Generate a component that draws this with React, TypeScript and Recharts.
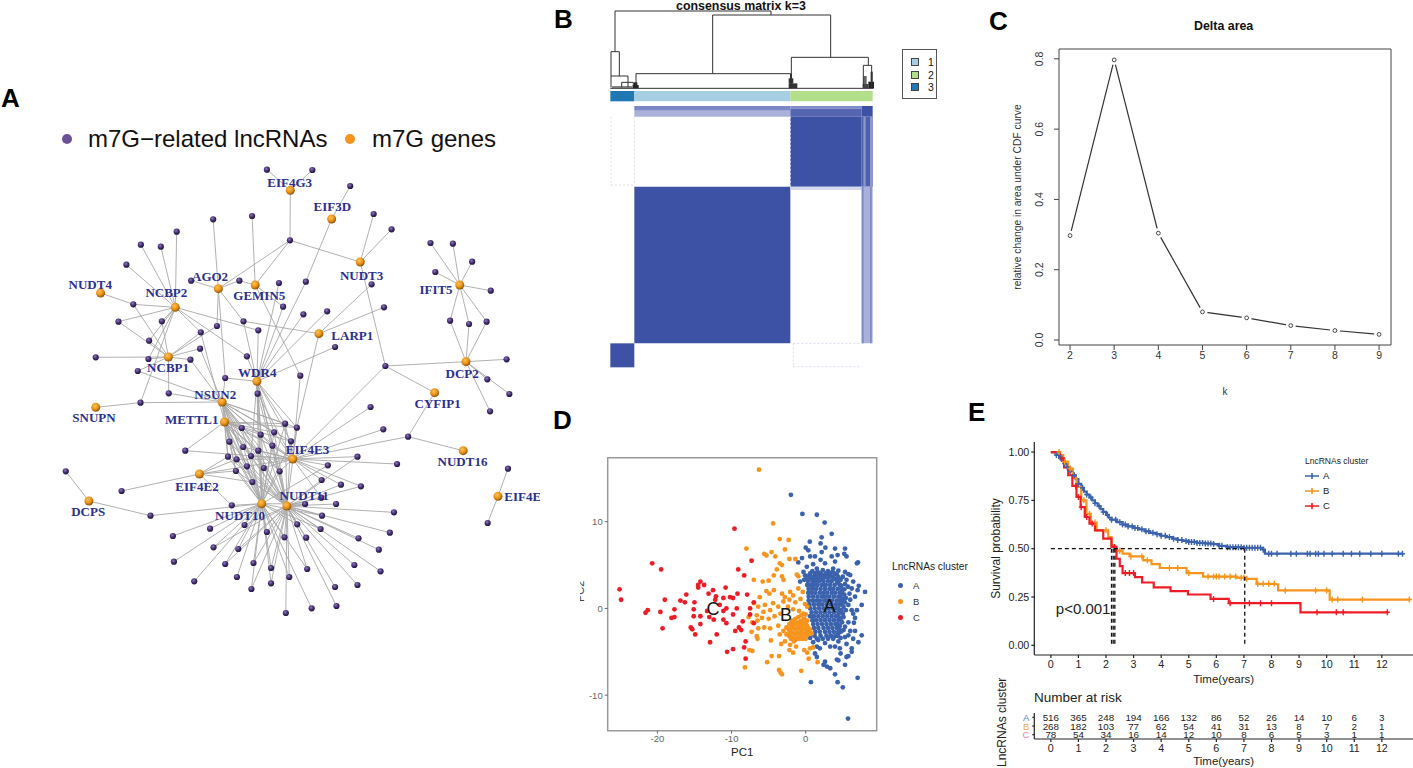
import { CSSProperties } from "react"
import {
  LineChart,
  Line,
  ScatterChart,
  Scatter,
  XAxis,
  YAxis,
  ReferenceArea,
  ReferenceDot,
} from "recharts"

const SANS = '"Liberation Sans", Arial, sans-serif'
const SERIF = '"Liberation Serif", serif'

// ---- A: network, values in layout units
const genes: [string, string, number, number, number, number][] = [
  ["G3", "EIF4G3", 843, 211, 841, 186],
  ["3D", "EIF3D", 963, 297, 965, 258],
  ["T3", "NUDT3", 1046, 426, 1050, 467],
  ["IF", "IFIT5", 1335, 495, 1266, 509],
  ["T4", "NUDT4", 292, 519, 262, 493],
  ["AG", "AGO2", 634, 506, 610, 468],
  ["GE", "GEMIN5", 741, 495, 753, 526],
  ["N2", "NCBP2", 509, 562, 483, 518],
  ["LA", "LARP1", 926, 641, 1023, 646],
  ["N1", "NCBP1", 489, 711, 488, 741],
  ["DC", "DCP2", 1353, 725, 1342, 760],
  ["W", "WDR4", 746, 784, 747, 758],
  ["CY", "CYFIP1", 1262, 818, 1271, 849],
  ["NS", "NSUN2", 645, 846, 625, 823],
  ["SN", "SNUPN", 278, 862, 273, 891],
  ["ME", "METTL1", 652, 906, 557, 899],
  ["E3", "EIF4E3", 850, 1017, 893, 987],
  ["T6", "NUDT16", 1345, 992, 1343, 1024],
  ["E2", "EIF4E2", 579, 1062, 572, 1100],
  ["DS", "DCPS", 258, 1143, 256, 1175],
  ["E", "EIF4E", 1446, 1129, 1518, 1129],
  ["T0", "NUDT10", 760, 1151, 697, 1186],
  ["T1", "NUDT11", 833, 1158, 883, 1127],
]

const lncRnas: [number, number, string][] = [
  [775, 149, "G3"], [907, 150, "G3"], [1017, 198, "3D"], [842, 361, "G3 T3 AG GE"],
  [619, 298, "AG"], [732, 288, "GE"], [1085, 282, "T3"], [1137, 328, "T3"],
  [513, 335, "N2"], [409, 374, "N2"], [467, 380, "N2"], [367, 434, "N2"],
  [555, 482, "AG"], [695, 482, "AG GE"], [810, 489, "W"], [888, 485, "3D W"],
  [1079, 493, "LA"], [1119, 738, "T3 DC CY E3"], [387, 553, "N2 N1 T4"], [344, 605, "N2 N1"],
  [470, 604, "N2 N1"], [433, 662, "N2 N1"], [630, 618, "AG N1"], [583, 637, "N2 N1 ME"],
  [707, 604, "AG W LA"], [750, 631, "N2 W"], [822, 560, "GE W"], [881, 583, "W"],
  [950, 574, "W"], [1115, 562, "LA"], [973, 681, "W"], [717, 709, "W N2"],
  [581, 686, "N1 NS"], [553, 719, "N1 NS"], [431, 717, "N1 N2"], [278, 712, "N1"],
  [400, 753, "N1 NS"], [872, 767, "GE E3"], [654, 774, "W AG NS"], [748, 821, "W E3 T0 T1"],
  [490, 820, "N1 NS"], [408, 848, "SN NS N2"],
  [1250, 369, "IF"], [1315, 371, "IF"], [1371, 425, "IF"], [1264, 456, "IF"], [1425, 512, "IF"],
  [1307, 602, "IF DC"], [1362, 612, "IF DC"], [1413, 605, "IF DC"],
  [1471, 718, "DC"], [1415, 778, "DC"], [1479, 822, "DC"], [1423, 874, "DC"],
  [1076, 861, "E3"], [1113, 928, "E3"],
  [828, 911, "NS ME W E3 T1 T0"], [862, 923, "W NS ME E3 T1 LA"], [702, 924, "ME NS T0 T1 E3"], [757, 944, "ME NS T0 T1 E3 W"],
  [796, 937, "NS ME W T1 T0 E3"], [845, 964, "NS ME W E3 T1 T0"], [666, 965, "ME NS T0 T1"], [791, 977, "NS ME W E3 T1 T0"],
  [706, 981, "ME NS T0 T1 E3"], [750, 992, "ME NS W E3 T1 T0"], [538, 992, "ME E3"], [1185, 950, "CY T6 E3"],
  [662, 1010, "ME NS T0 T1 E2"], [687, 1018, "ME NS T0 T1 E2 E3"], [729, 1008, "ME NS W E3 T0 T1"], [1038, 1010, "E3 T1"],
  [952, 1036, "E3 T0"], [1153, 1032, "E3"], [685, 1053, "E2 ME NS T1 T0"], [717, 1039, "E2 ME NS T0 T1 E3"],
  [766, 1044, "E3 ME NS W T1 T0"], [812, 1054, "E3 NS ME W T0 T1"], [934, 1080, "E3 T1"], [733, 1086, "E2 ME NS T0 T1"],
  [990, 1094, "E3 T1"], [1048, 1099, "E3 T1"], [933, 1133, "E3 T1"], [886, 1152, "T1 T0"],
  [976, 1152, "T1"], [1144, 1177, "T1"], [935, 1187, "T1 T0"], [673, 1156, "E2 T0"],
  [437, 1187, "DS T0"], [353, 1113, "E2"], [191, 1054, "DS"], [1475, 1046, "E"], [1416, 1209, "E"],
  [863, 1213, "T1 T0"], [710, 1215, "T0 T1"], [610, 1226, "T0"], [931, 1227, "T1 T0"],
  [775, 1236, "T0 T1"], [826, 1252, "T1 T0"], [889, 1253, "T1"], [1041, 1255, "T1"],
  [1132, 1238, "T1"], [502, 1248, "T0"], [620, 1282, "T0 T1"], [692, 1287, "T0 T1"],
  [1100, 1289, "T1"], [505, 1325, "T0"], [654, 1332, "T0 T1"], [736, 1329, "T0 T1"],
  [787, 1344, "T0 T1"], [892, 1347, "T1 T0"], [1029, 1335, "T1"], [1105, 1354, "T1"],
  [688, 1371, "T0"], [840, 1371, "T1 T0"], [564, 1384, "T0"], [730, 1407, "T0 T1"],
  [787, 1390, "T0 T1"], [973, 1401, "T1"], [1038, 1395, "T1"], [830, 1479, "T1"],
  [905, 1465, "T0"], [977, 1458, "T1"],
]

// ---- B: consensus matrix, values in sample units
const matrixBlocks: [number, number, number, number, string][] = [
  [253, 721, 318, 332, "#7a86c6"],
  [253, 721, 332, 350, "#aab2dc"],
  [721, 935, 318, 326, "#7f8ac8"],
  [721, 935, 326, 350, "#5565b0"],
  [935, 968, 318, 350, "#3d52a5"],
  [721, 935, 350, 560, "#3d52a5"],
  [935, 968, 350, 560, "#4d60ae"],
  [940, 947, 350, 560, "#8d98cf"],
  [960, 968, 350, 560, "#8d98cf"],
  [253, 721, 560, 1030, "#3d52a5"],
  [721, 935, 560, 570, "#d5d9ee"],
  [935, 968, 560, 1030, "#a8b0db"],
  [935, 941, 560, 1030, "#7f8bc8"],
  [960, 965, 560, 1030, "#7f8bc8"],
  [181, 253, 1030, 1102, "#3d52a5"],
  [181, 253, 273, 304, "#1f78b4"],
  [253, 721, 273, 304, "#a6cee3"],
  [721, 968, 273, 304, "#b2df8a"],
  [248, 266, 255, 265, "#222222"],
  [252, 262, 247, 255, "#222222"],
  [716, 742, 250, 265, "#333333"],
  [716, 730, 235, 250, "#333333"],
  [720, 726, 222, 235, "#333333"],
  [955, 972, 245, 265, "#222222"],
  [938, 955, 252, 265, "#444444"],
  [940, 950, 228, 252, "#666666"],
  [962, 968, 215, 245, "#222222"],
  [186, 248, 258, 264, "#888888"],
]
const faintLines: [number, number, number, number][] = [
  [183, 350, 183, 555],
  [183, 555, 253, 555],
  [253, 350, 253, 555],
  [721, 350, 721, 560],
  [730, 1030, 730, 1100],
  [730, 1100, 935, 1100],
  [730, 1030, 935, 1030],
]
const dendrogram: number[][][] = [
  [[195, 155], [195, 33], [663, 33], [663, 45]],
  [[488, 221], [488, 45], [842, 45], [842, 172]],
  [[258, 262], [258, 221], [722, 221], [722, 262]],
  [[724, 262], [724, 172], [955, 172], [955, 196]],
  [[940, 262], [940, 196], [965, 196], [965, 262]],
  [[183, 262], [183, 155], [208, 155], [208, 228]],
  [[183, 228], [234, 228], [234, 262]],
  [[215, 262], [215, 247], [250, 247], [250, 262]],
  [[181, 265], [970, 265]],
]
const matrixLegend = [
  { name: "1", color: "#a6cee3" },
  { name: "2", color: "#b2df8a" },
  { name: "3", color: "#1f78b4" },
]

// ---- C: delta area
const deltaK = [2, 3, 4, 5, 6, 7, 8, 9]
const deltaArea = [0.297, 0.797, 0.304, 0.08, 0.063, 0.041, 0.027, 0.016]

// ---- D: PCA
const pcaA: number[][] = [
  [-2, 13.1], [-0.45, 10.9], [1.5, 10.8], [2.55, 9.9], [3.5, 8.6], [2.15, 8.2], [0.55, 7.7], [2, 7.5],
  [0, 7], [0.35, 6.7], [2.65, 7], [2.15, 6.5], [3.95, 6.9], [5.3, 6.9], [5.2, 6.3], [5.5, 6], [4.3, 6.15],
  [3.5, 6], [0.6, 6], [1.25, 6], [-0.5, 5.8], [-1, 5.3], [2, 5.6], [2.6, 5.2], [3.95, 5.4], [6.9, 5.2],
  [7.05, 5.3], [0.15, 4.8], [1, 5.1], [1.5, 4.6], [3.7, 4.6], [4.4, 4.35], [5.3, 4.2], [5.75, 3.95], [6, 3.85],
  [-0.3, 4.2], [-0.75, 3.1], [6.4, 3.1], [7.15, 2.6], [8, 1.9], [7, 2.1], [6.2, 2.3], [5.5, 3.3], [5, 3.65],
  [7.55, 0.4], [6.65, 1.35], [5.9, 1.7], [6, 1], [5.75, 0.4], [6.9, -0.2], [6.4, -0.6], [6.2, -0.2], [6.65, -1.1],
  [5.75, -1.6], [6.5, -1.65], [5.1, -1], [5.3, -2.1], [5.1, -2.5], [6, -2.6], [6.65, -2.6], [7.55, -3.1], [5.75, -3.1],
  [5.3, -3.3], [6.4, -3.5], [7.1, -3.9], [5.5, -4.1], [6.2, -4.6], [6.2, -5], [5.75, -5.5], [4.6, -4.6], [3.95, -4.4],
  [3.3, -4.4], [2.6, -4], [1.7, -3.65], [1.5, -4.4], [1.9, -4.6], [1.25, -5.2], [1.5, -5.6], [4.7, -5.2], [4.4, -6],
  [4.2, -5.9], [5.3, -6.5], [5.5, -5.6], [2.6, -6.15], [2.4, -6.5], [2.85, -6.7], [3.3, -6.9], [3.95, -7.6], [4.3, -8.5],
  [5, -9.1], [7, -8], [0.7, -8.5], [5.7, -12.7],
  [0.9, 4.3], [1.6, 4.2], [2.3, 4.4], [3, 4.3], [3.6, 4.2], [4.2, 3.9], [-0.1, 3.8], [0.5, 3.85], [1.1, 3.7], [1.7, 3.9],
  [2.3, 3.8], [2.9, 3.9], [3.4, 3.7], [4, 3.4], [4.7, 3.3], [-0.2, 3.3], [0.4, 3.4], [1, 3.3], [1.5, 3.4], [2.1, 3.3],
  [4.4, 2.9], [4.8, 2.6], [5.3, 2.8], [5.2, 2.2], [5.7, 2.5], [5.2, 1.6], [5, 1.1], [5.4, 1.2], [5.3, 0.7], [5.1, 0.2],
  [4.8, -0.2], [5.4, -0.2], [5, -0.6], [4.6, -1.1], [4.9, -1.6], [4.6, -2], [4.8, -2.6], [4.4, -2.9], [4.7, -3.4], [4.4, -3.8], [1, -3], [0.6, -3.4], [1, -3.9],
]
// core of cluster A, each row is PC2 then the PC1 values read along it
const pcaACore: number[][] = [
  [4.05, 0.6, 1.3, 2, 2.7, 3.3, 3.9],
  [3.6, 0.2, 0.8, 1.4, 2, 2.6, 3.1, 3.7, 4.4],
  [3.15, 0.3, 0.9, 1.3, 1.8, 2.4, 3, 3.5, 4.2],
  [2.7, 0.2, 0.7, 1.1, 1.6, 2.2, 2.7, 3.3, 3.9, 4.6],
  [2.25, 0.4, 0.9, 1.4, 2, 2.6, 3.2, 3.7, 4.3, 4.8],
  [1.8, 0.35, 0.8, 1.3, 1.9, 2.4, 2.9, 3.5, 4, 4.6, 4.9],
  [1.35, 0.4, 1, 1.6, 2.2, 2.7, 3.2, 3.8, 4.4, 4.7],
  [0.9, 0.4, 0.9, 1.4, 1.9, 2.5, 3, 3.6, 4.2, 4.7, 5],
  [0.45, 0.5, 1.1, 1.7, 2.2, 2.8, 3.4, 4, 4.5, 4.8],
  [0, 0.6, 1.2, 1.8, 2.4, 3, 3.6, 4.1, 4.4],
  [-0.45, 0.8, 1.4, 2, 2.6, 3.2, 3.8, 4.4, 4.7],
  [-0.9, 0.6, 1.1, 1.7, 2.3, 2.9, 3.5, 4.1, 4.4],
  [-1.35, 0.9, 1.4, 2, 2.6, 3.2, 3.8, 4.4, 4.7],
  [-1.8, 1, 1.6, 2.2, 2.8, 3.4, 4, 4.3],
  [-2.25, 1.1, 1.7, 2.4, 3, 3.6, 4.2, 4.5],
  [-2.7, 1.3, 1.9, 2.6, 3.2, 3.8, 4.4, 4.7],
  [-3.15, 1.2, 2, 2.8, 3.4, 4, 4.3],
  [-3.5, 1.5, 2.3, 3, 3.7],
]
const pcaB: number[][] = [
  [-6.3, 16], [-4.4, 9.8], [-3.5, 8], [-2.3, 7.9], [-8, 6.9], [-2.8, 6.8], [-5.6, 6.3], [-5.3, 6.1], [-4.6, 6.5],
  [-4.1, 6], [-2.2, 5.7], [-1.4, 5.7], [-3.5, 5.2], [-3.2, 5], [-3.9, 4.5], [-7, 3.3], [-5.8, 3.1], [-5, 3.2],
  [-4.3, 3.8], [-3.2, 3.7], [-3, 3.3], [-1.2, 3.9], [-1, 3.7], [-5.3, 2], [-4.9, 1.7], [-4.3, 2.1], [-3.2, 1.7],
  [-2.8, 1.3], [-2.1, 1.9], [-1.7, 1.5], [-1, 2.3], [-0.4, 1.9], [-6.2, 1.3], [-7, 0.6], [-6.4, 0.2], [-5.5, 0.4],
  [-4.4, 0.6], [-5.7, -0.4], [-6.6, -0.8], [-4.8, -0.2], [-3.7, 0.2], [-3, 0.8], [-2.2, 1], [-1.4, 0.7], [-0.7, 1.1],
  [-0.1, 0.5], [-7.7, -1], [-7.2, -1.6], [-6.5, -1.4], [-5.9, -1.1], [-5, -1.2], [-4.2, -0.9], [-3.4, -0.6], [-2.4, 0.2],
  [-1.7, -0.1], [-0.9, -0.3], [-0.3, -0.6], [0.2, 0.2], [-7.3, -2.7], [-6.4, -2.3], [-5.6, -2.2], [-4.8, -2.3], [-3.7, -2],
  [-6.6, -3.2], [-6.5, -3.5], [-4.7, -3.7], [-3.5, -3], [-3.3, -4.1], [-7.2, -4.9], [-7.6, -4.8], [-5.2, -6.2], [-4.6, -5.5],
  [-3.6, -5.5], [-8.2, -6.8], [-3.6, -7.1], [-3.4, -7.4], [-3.2, -7.6], [-0.6, -7.2], [1.6, -6.2], [0.4, -5.8], [-1.7, -5.1],
  [-2.2, -4.8], [-1.3, -4.4], [-0.2, -4.8], [0.2, -5.1], [0.6, -4.6], [1, -4.5], [-2.8, -3.8], [-2.1, -4.2], [-1.6, -3.8],
  [-3, -2.6], [-2.6, -2.2], [-2.6, -3], [-2.2, -1.8], [-2.2, -2.5], [-2.2, -3.2], [-1.8, -1.4], [-1.8, -2.1], [-1.8, -2.8],
  [-1.8, -3.4], [-1.4, -1.2], [-1.4, -1.8], [-1.4, -2.4], [-1.4, -3], [-1.4, -3.6], [-1, -1], [-1, -1.6], [-1, -2.2], [-1, -2.8],
  [-1, -3.4], [-0.6, -1.4], [-0.6, -2], [-0.6, -2.6], [-0.6, -3.2], [-0.2, -1.2], [-0.2, -1.8], [-0.2, -2.4], [-0.2, -3], [0.2, -1.4],
  [0.2, -2], [0.2, -2.6], [0.2, -3.1], [0.6, -2.5], [0.8, -2.9], [-0.6, -0.8], [0, -0.7],
]
const pcaBCore: number[][] = [
  [-1.7, -2, -1.6, -1.2, -0.8, -0.4, 0],
  [-2.3, -2.4, -2, -1.6, -1.2, -0.8, -0.4, 0, 0.4],
  [-2.9, -2.4, -2, -1.6, -1.2, -0.8, -0.4, 0, 0.4],
  [-3.5, -2, -1.6, -1.2, -0.8, -0.4, 0],
]
const pcaC: number[][] = [
  [-25.1, 2.2], [-24.9, 1], [-20.7, 5.2], [-19.5, 4.5], [-19, 1], [-21.6, -0.5], [-21.3, -0.2], [-19.6, -0.4], [-19.3, -2.3],
  [-17.7, -0.1], [-18.1, -1.1], [-17.7, -1], [-16.9, 0.9], [-16.3, 0.7], [-16.1, 1.6], [-15.5, -2.2], [-15.3, -2.4], [-14.9, -3],
  [-15, 0.7], [-15.1, -0.1], [-15.1, -0.9], [-14.2, -0.9], [-14.2, -1.8], [-14.5, 2.4], [-14.2, 3.1], [-13.7, 2.7], [-14.5, 2.7],
  [-12.9, -3.9], [-12, -3], [-13.1, 1.7], [-12.5, 2.1], [-12.1, 1.4], [-12.2, 1], [-11.1, 1.2], [-10.8, 2.4], [-11.6, 0.4],
  [-13.3, -0.3], [-13, -1], [-12.4, -1.3], [-11.1, -0.3], [-10.7, 0], [-11.1, -1.3], [-10.7, -1.7], [-10.6, -5], [-9.8, -4.7],
  [-9.6, 9.2], [-9.1, 4.5], [-8.3, 3.8], [-7.3, 5.5], [-10.2, 1.3], [-9.8, 1.2], [-9.2, 1.7], [-7.9, 1.6], [-9.3, 0], [-9.8, -0.7],
  [-9.5, -2.6], [-9, -2.2], [-8.7, -2.5], [-8.5, -1.5], [-8.1, -3.8], [-8.3, -4.5], [-8.1, -5.8], [-7.5, 0], [-7.5, -0.7], [-7, 0.7], [-7, -1.7],
]
const pcaLabels = [
  { x: 3.2, y: 0.3, name: "A" },
  { x: -2.65, y: -0.7, name: "B" },
  { x: -12.5, y: 0, name: "C" },
]
const clusterLegend = [
  { name: "A", color: "#3b62ad" },
  { name: "B", color: "#f7941d" },
  { name: "C", color: "#ee1c25" },
]

// ---- E: survival
const survA: number[][] = [
  [0, 1], [0.1, 0.998], [0.2, 0.985], [0.3, 0.97], [0.4, 0.955], [0.5, 0.94], [0.6, 0.92], [0.7, 0.9], [0.8, 0.88], [0.9, 0.86],
  [1, 0.835], [1.1, 0.815], [1.2, 0.795], [1.3, 0.78], [1.4, 0.765], [1.5, 0.75], [1.6, 0.735], [1.7, 0.72], [1.8, 0.705], [1.9, 0.69],
  [2, 0.675], [2.1, 0.66], [2.2, 0.65], [2.4, 0.637], [2.6, 0.625], [2.8, 0.615], [3, 0.607], [3.2, 0.6], [3.4, 0.59], [3.6, 0.582],
  [3.8, 0.575], [4, 0.567], [4.2, 0.56], [4.4, 0.552], [4.6, 0.545], [4.8, 0.54], [5, 0.535], [5.3, 0.53], [5.6, 0.527], [5.9, 0.524],
  [6.1, 0.515], [6.4, 0.508], [7, 0.505], [7.7, 0.495], [7.76, 0.474], [12.77, 0.474],
]
const survB: number[][] = [
  [0, 1], [0.33, 0.984], [0.45, 0.95], [0.63, 0.915], [0.8, 0.865], [0.93, 0.82], [1.1, 0.75], [1.29, 0.68], [1.45, 0.635], [1.66, 0.595],
  [2.08, 0.56], [2.2, 0.517], [2.32, 0.49], [2.6, 0.475], [2.86, 0.46], [3.35, 0.44], [3.65, 0.42], [3.95, 0.4], [4.56, 0.4], [4.92, 0.374],
  [5.52, 0.356], [6.73, 0.35], [7.09, 0.344], [7.46, 0.318], [8.12, 0.316], [8.24, 0.284], [10.05, 0.284], [10.11, 0.237], [13, 0.237],
]
const survC: number[][] = [
  [0, 1], [0.33, 0.967], [0.48, 0.92], [0.63, 0.88], [0.78, 0.825], [0.93, 0.768], [1.08, 0.715], [1.23, 0.664], [1.4, 0.63], [1.6, 0.595],
  [1.9, 0.552], [2.2, 0.509], [2.38, 0.448], [2.5, 0.41], [2.6, 0.374], [3.05, 0.353], [3.31, 0.325], [3.73, 0.3], [4.34, 0.28], [4.97, 0.263],
  [5.79, 0.24], [6.45, 0.218], [9.05, 0.171], [12.23, 0.171],
]
const censorA = [
  0.2, 0.35, 0.5, 0.6, 0.7, 0.85, 1, 1.15, 1.3, 1.45, 1.6, 1.75, 1.9, 2.05, 2.2, 2.35, 2.5, 2.6, 2.7, 2.8, 2.95, 3.05, 3.15, 3.3,
  3.45, 3.55, 3.7, 3.85, 4, 4.15, 4.3, 4.45, 4.6, 4.75, 4.9, 5, 5.1, 5.2, 5.3, 5.4, 5.5, 5.6, 5.7, 5.8, 5.9, 6.1, 6.2, 6.4, 6.5,
  6.6, 6.7, 6.8, 6.9, 7, 7.1, 7.2, 7.3, 7.4, 7.5, 7.6, 7.7, 7.9, 8, 8.2, 8.7, 8.9, 9.3, 9.4, 9.6, 9.7, 9.9, 10.2, 10.6, 10.9, 11.2, 11.6, 12, 12.6, 12.75,
]
const censorB = [
  0.3, 0.5, 0.7, 1.2, 1.4, 1.6, 2, 2.5, 2.9, 3.3, 3.5, 4.3, 4.6, 5, 5.7, 5.9, 6, 6.1, 6.3, 6.5, 6.7, 6.9, 7, 7.1, 7.5, 7.7, 7.9, 8.1, 8.5,
  9.6, 10, 10.2, 10.4, 11.3, 13,
]
const censorC = [0.4, 0.9, 1, 1.1, 1.3, 1.5, 2.3, 2.7, 2.85, 3, 5.9, 6.5, 7.2, 7.6, 8, 9.65, 10.35, 10.6, 12.2]

const medianLines: [number, number, number, number][] = [
  [0, 0.5, 7.03, 0.5],
  [2.2, 0.5, 2.2, 0],
  [2.26, 0.5, 2.26, 0],
  [2.32, 0.5, 2.32, 0],
  [7.03, 0.5, 7.03, 0],
]

const riskTimes = [0, 1, 2, 3, 4, 5, 6, 7, 8, 9, 10, 11, 12]
const riskA = [516, 365, 248, 194, 166, 132, 86, 52, 26, 14, 10, 6, 3]
const riskB = [268, 182, 103, 77, 62, 54, 41, 31, 13, 8, 7, 2, 1]
const riskC = [78, 54, 34, 16, 14, 12, 10, 8, 6, 5, 3, 1, 1]
const riskRowColors: Record<string, string> = { "2.5": "#4f7fc8", "1.5": "#f5a84b", "0.5": "#f58a8f" }
const riskRowNames: Record<string, string> = { "2.5": "A", "1.5": "B", "0.5": "C" }

// ---- helpers
const geneByKey = Object.fromEntries(genes.map((g) => [g[0], g]))
const edges = lncRnas.flatMap(([x, y, links]) =>
  links.split(" ").map((key) => [
    { x, y },
    { x: geneByKey[key][2], y: geneByKey[key][3] },
  ]),
)
const lncData = lncRnas.map(([x, y]) => ({ x, y }))
const geneData = genes.map((g) => ({ x: g[2], y: g[3] }))
const geneLabels = genes.map((g) => ({ x: g[4], y: g[5], name: g[1] }))
const toXY = (rows: number[][]) => rows.map(([x, y]) => ({ x, y }))
const toTS = (rows: number[][]) => rows.map(([t, s]) => ({ t, s }))
const coreToXY = (rows: number[][]) => rows.flatMap(([y, ...xs]) => xs.map((x) => ({ x, y })))
const stepAt = (rows: number[][], t: number) => {
  let s = rows[0][1]
  for (const r of rows) if (r[0] <= t) s = r[1]
  return s
}
const censored = (rows: number[][], times: number[]) => times.map((t) => ({ t, s: stepAt(rows, t) }))
const deltaData = deltaK.map((k, i) => ({ k, area: deltaArea[i] }))
const riskRow = (values: number[], y: number) => riskTimes.map((t, i) => ({ t, y, n: values[i] }))

const noMark = () => <g />
const zero = { top: 0, right: 0, bottom: 0, left: 0 }
const panel = (left: number, top: number): CSSProperties => ({ position: "absolute", left, top })

const Html = ({ x, y, size, children, style }: any) => (
  <div
    style={{
      position: "absolute",
      left: x,
      top: y,
      fontFamily: SANS,
      fontSize: size,
      lineHeight: 1,
      whiteSpace: "nowrap",
      color: "#111",
      ...style,
    }}
  >
    {children}
  </div>
)

function NetworkPanel() {
  return (
    <ScatterChart style={panel(0, 120)} width={540} height={520} margin={zero}>
      <defs>
        <radialGradient id="geneBall" cx="40%" cy="35%" r="70%">
          <stop offset="0%" stopColor="#ffc457" />
          <stop offset="55%" stopColor="#e88f14" />
          <stop offset="100%" stopColor="#7a4a08" />
        </radialGradient>
        <radialGradient id="lncBall" cx="40%" cy="35%" r="70%">
          <stop offset="0%" stopColor="#8d78b8" />
          <stop offset="55%" stopColor="#402a6e" />
          <stop offset="100%" stopColor="#1d1236" />
        </radialGradient>
      </defs>
      <XAxis type="number" dataKey="x" domain={[0, 1568]} hide />
      <YAxis type="number" dataKey="y" domain={[0, 1560]} reversed hide />
      {edges.map((edge, i) => (
        <Scatter
          key={i}
          data={edge}
          line={{ stroke: "#a8a8a8", strokeWidth: 0.9 }}
          shape={noMark}
          isAnimationActive={false}
        />
      ))}
      <Scatter
        data={lncData}
        isAnimationActive={false}
        shape={(p: any) => <circle cx={p.cx} cy={p.cy} r={3.1} fill="url(#lncBall)" />}
      />
      <Scatter
        data={geneData}
        isAnimationActive={false}
        shape={(p: any) => <circle cx={p.cx} cy={p.cy} r={4.5} fill="url(#geneBall)" />}
      />
      <Scatter
        data={geneLabels}
        isAnimationActive={false}
        shape={(p: any) => (
          <text
            x={p.cx}
            y={p.cy}
            textAnchor="middle"
            dominantBaseline="central"
            fontFamily={SERIF}
            fontWeight="bold"
            fontSize={13}
            fill="#2b2f8f"
          >
            {p.payload.name}
          </text>
        )}
      />
    </ScatterChart>
  )
}

function MatrixPanel() {
  return (
    <ScatterChart style={panel(550, 0)} width={420} height={380} margin={zero}>
      <XAxis type="number" dataKey="x" domain={[0, 1260]} hide />
      <YAxis type="number" dataKey="y" domain={[0, 1140]} reversed hide />
      {matrixBlocks.map(([x1, x2, y1, y2, color], i) => (
        <ReferenceArea key={i} x1={x1} x2={x2} y1={y1} y2={y2} fill={color} fillOpacity={1} stroke="none" />
      ))}
      {faintLines.map(([x1, y1, x2, y2], i) => (
        <Scatter
          key={"f" + i}
          data={[{ x: x1, y: y1 }, { x: x2, y: y2 }]}
          line={{ stroke: "#d9dbf0", strokeWidth: 1, strokeDasharray: "2 2" }}
          shape={noMark}
          isAnimationActive={false}
        />
      ))}
      {dendrogram.map((path, i) => (
        <Scatter
          key={"d" + i}
          data={toXY(path)}
          line={{ stroke: "#333", strokeWidth: 1 }}
          shape={noMark}
          isAnimationActive={false}
        />
      ))}
    </ScatterChart>
  )
}

const RotatedTick = ({ x, y, payload }: any) => (
  <text
    x={x - 9}
    y={y}
    transform={`rotate(-90 ${x - 9} ${y})`}
    textAnchor="middle"
    fontFamily={SANS}
    fontSize={10.5}
    fill="#333"
  >
    {payload.value.toFixed(1)}
  </text>
)

function DeltaPanel() {
  return (
    <LineChart
      style={panel(980, 0)}
      width={433}
      height={400}
      data={deltaData}
      margin={{ top: 49, right: 22, bottom: 0, left: 0 }}
    >
      <XAxis
        type="number"
        dataKey="k"
        domain={[1.75, 9.27]}
        ticks={deltaK}
        interval={0}
        height={55}
        tickSize={5}
        axisLine={false}
        tick={{ fontFamily: SANS, fontSize: 10.5, fill: "#333" }}
        stroke="#444"
        label={{
          value: "k",
          position: "insideBottom",
          offset: 5,
          style: { fontFamily: SANS, fontSize: 10, fill: "#333" },
        }}
      />
      <YAxis
        type="number"
        domain={[-0.0142, 0.828]}
        ticks={[0, 0.2, 0.4, 0.6, 0.8]}
        interval={0}
        width={79}
        tickSize={5}
        axisLine={false}
        stroke="#444"
        tick={<RotatedTick />}
        label={{
          value: "relative change in area under CDF curve",
          angle: -90,
          position: "insideLeft",
          offset: 37,
          style: { textAnchor: "middle", fontFamily: SANS, fontSize: 10.3, fill: "#333" },
        }}
      />
      <ReferenceArea x1={1.75} x2={9.27} y1={-0.0142} y2={0.828} fill="none" stroke="#444" strokeWidth={1} />
      <Line
        dataKey="area"
        stroke="#333"
        strokeWidth={1.2}
        isAnimationActive={false}
        dot={(p: any) => (
          <g key={p.key}>
            <circle cx={p.cx} cy={p.cy} r={5} fill="#fff" />
            <circle cx={p.cx} cy={p.cy} r={1.9} fill="#fff" stroke="#333" strokeWidth={0.9} />
          </g>
        )}
      />
    </LineChart>
  )
}

function PcaPanel() {
  const dot = (fill: string) => (p: any) => <circle cx={p.cx} cy={p.cy} r={2.4} fill={fill} />
  const tick = { fontFamily: SANS, fontSize: 9.5, fill: "#666" }
  return (
    <ScatterChart style={panel(550, 440)} width={420} height={328} margin={{ top: 17.7, right: 93.3, bottom: 0, left: 0 }}>
      <XAxis
        type="number"
        dataKey="x"
        domain={[-26.7, 9.57]}
        ticks={[-20, -10, 0]}
        interval={0}
        height={37.3}
        tickSize={3}
        axisLine={false}
        stroke="#666"
        tick={tick}
        label={{
          value: "PC1",
          position: "insideBottom",
          offset: 12,
          style: { fontFamily: SANS, fontSize: 11.5, fill: "#222" },
        }}
      />
      <YAxis
        type="number"
        dataKey="y"
        domain={[-14.1, 17.38]}
        ticks={[-10, 0, 10]}
        interval={0}
        width={57.7}
        tickSize={3}
        axisLine={false}
        stroke="#666"
        tick={tick}
      />
      <Scatter data={toXY(pcaA)} isAnimationActive={false} shape={dot(clusterLegend[0].color)} />
      <Scatter data={coreToXY(pcaACore)} isAnimationActive={false} shape={dot(clusterLegend[0].color)} />
      <Scatter data={toXY(pcaB)} isAnimationActive={false} shape={dot(clusterLegend[1].color)} />
      <Scatter data={coreToXY(pcaBCore)} isAnimationActive={false} shape={dot(clusterLegend[1].color)} />
      <Scatter data={toXY(pcaC)} isAnimationActive={false} shape={dot(clusterLegend[2].color)} />
      <ReferenceArea x1={-26.7} x2={9.57} y1={-14.1} y2={17.38} fill="none" stroke="#999" strokeWidth={1.5} />
      {pcaLabels.map((l) => (
        <ReferenceDot
          key={l.name}
          x={l.x}
          y={l.y}
          r={0}
          stroke="none"
          label={{ value: l.name, position: "center", fontFamily: SANS, fontSize: 18, fill: "#111" }}
        />
      ))}
    </ScatterChart>
  )
}

const plusMark = (color: string) => (p: any) => (
  <path
    d={`M${p.cx - 2.5} ${p.cy}H${p.cx + 2.5}M${p.cx} ${p.cy - 3}V${p.cy + 3}`}
    stroke={color}
    strokeWidth={1.4}
    fill="none"
  />
)

function SurvivalPanel() {
  const tick = { fontFamily: SANS, fontSize: 10.7, fill: "#222" }
  return (
    <ScatterChart style={panel(980, 430)} width={433} height={256} margin={{ top: 12, right: 0, bottom: 0, left: 0 }}>
      <XAxis
        type="number"
        dataKey="t"
        domain={[-0.6, 13.13]}
        ticks={riskTimes}
        interval={0}
        height={31}
        tickSize={3}
        stroke="#222"
        strokeWidth={1.2}
        tick={tick}
        label={{
          value: "Time(years)",
          position: "insideBottom",
          offset: 3,
          style: { fontFamily: SANS, fontSize: 11.5, fill: "#222" },
        }}
      />
      <YAxis
        type="number"
        dataKey="s"
        domain={[-0.05, 1.052]}
        ticks={[0, 0.25, 0.5, 0.75, 1]}
        interval={0}
        width={54.3}
        tickSize={3}
        stroke="#222"
        strokeWidth={1.2}
        tick={tick}
        tickFormatter={(v: number) => v.toFixed(2)}
        label={{
          value: "Survival probability",
          angle: -90,
          position: "insideLeft",
          offset: 16,
          style: { textAnchor: "middle", fontFamily: SANS, fontSize: 12, fill: "#222" },
        }}
      />
      {[survA, survB, survC].map((rows, i) => (
        <Scatter
          key={i}
          data={toTS(rows)}
          line={{ stroke: clusterLegend[i].color, strokeWidth: 2.2 }}
          lineJointType="stepAfter"
          shape={noMark}
          isAnimationActive={false}
        />
      ))}
      <Scatter data={censored(survA, censorA)} isAnimationActive={false} shape={plusMark("#3b62ad")} />
      <Scatter data={censored(survB, censorB)} isAnimationActive={false} shape={plusMark("#f7941d")} />
      <Scatter data={censored(survC, censorC)} isAnimationActive={false} shape={plusMark("#ee1c25")} />
      {medianLines.map(([x1, y1, x2, y2], i) => (
        <Scatter
          key={"m" + i}
          data={[{ t: x1, s: y1 }, { t: x2, s: y2 }]}
          line={{ stroke: "#111", strokeWidth: 1.3, strokeDasharray: "4 3" }}
          shape={noMark}
          isAnimationActive={false}
        />
      ))}
      <ReferenceDot
        x={1.17}
        y={0.19}
        r={0}
        stroke="none"
        label={{ value: "p<0.001", position: "center", fontFamily: SANS, fontSize: 15, fill: "#222" }}
      />
    </ScatterChart>
  )
}

const RiskTick = ({ x, y, payload }: any) => (
  <text
    x={x - 1}
    y={y}
    textAnchor="end"
    dominantBaseline="central"
    fontFamily={SANS}
    fontSize={9.5}
    fill={riskRowColors[String(payload.value)]}
  >
    {riskRowNames[String(payload.value)]}
  </text>
)

function RiskPanel() {
  const cell = (p: any) => (
    <text x={p.cx} y={p.cy} textAnchor="middle" dominantBaseline="central" fontFamily={SANS} fontSize={9.8} fill="#222">
      {p.payload.n}
    </text>
  )
  return (
    <ScatterChart style={panel(980, 700)} width={433} height={68} margin={{ top: 13, right: 0, bottom: 0, left: 0 }}>
      <XAxis
        type="number"
        dataKey="t"
        domain={[-0.6, 13.13]}
        ticks={riskTimes}
        interval={0}
        height={29}
        tickSize={3}
        stroke="#222"
        strokeWidth={1.2}
        tick={{ fontFamily: SANS, fontSize: 10.7, fill: "#222" }}
        label={{
          value: "Time(years)",
          position: "insideBottom",
          offset: 3,
          style: { fontFamily: SANS, fontSize: 11.5, fill: "#222" },
        }}
      />
      <YAxis
        type="number"
        dataKey="y"
        domain={[0, 3]}
        ticks={[0.5, 1.5, 2.5]}
        interval={0}
        width={54.3}
        tickSize={2}
        stroke="#222"
        strokeWidth={1.2}
        tick={<RiskTick />}
      />
      <Scatter data={riskRow(riskA, 2.5)} isAnimationActive={false} shape={cell} />
      <Scatter data={riskRow(riskB, 1.5)} isAnimationActive={false} shape={cell} />
      <Scatter data={riskRow(riskC, 0.5)} isAnimationActive={false} shape={cell} />
    </ScatterChart>
  )
}

const letter = { fontWeight: "bold", color: "#000" }

export default function App() {
  return (
    <div style={{ position: "absolute", left: 0, top: 0, width: 1413, height: 768, background: "#fff", overflow: "hidden" }}>
      <NetworkPanel />
      <MatrixPanel />
      <DeltaPanel />
      <PcaPanel />
      <SurvivalPanel />
      <RiskPanel />

      <Html x={1} y={85} size={26} style={letter}>A</Html>
      <Html x={554} y={6} size={26} style={letter}>B</Html>
      <Html x={989} y={8} size={26} style={letter}>C</Html>
      <Html x={553} y={407} size={26} style={letter}>D</Html>
      <Html x={968} y={399} size={26} style={letter}>E</Html>

      {/* A legend */}
      <div style={{ position: "absolute", left: 62, top: 134, width: 10, height: 10, borderRadius: 5, background: "#6a5096" }} />
      <Html x={88} y={127} size={24}>m7G−related lncRNAs</Html>
      <div style={{ position: "absolute", left: 345, top: 134, width: 10, height: 10, borderRadius: 5, background: "#f7941d" }} />
      <Html x={372} y={127} size={24}>m7G genes</Html>

      {/* B title and legend */}
      <Html x={676} y={0} size={12.4} style={{ fontWeight: "bold" }}>consensus matrix k=3</Html>
      <div style={{ position: "absolute", left: 902, top: 49, width: 35, height: 50, border: "1px solid #555", boxSizing: "border-box" }} />
      {matrixLegend.map((m, i) => (
        <div key={m.name}>
          <div
            style={{
              position: "absolute",
              left: 911,
              top: 58 + i * 12.5,
              width: 8,
              height: 8,
              background: m.color,
              border: "1px solid #444",
              boxSizing: "border-box",
            }}
          />
          <Html x={928} y={57 + i * 12.5} size={10.5}>{m.name}</Html>
        </div>
      ))}

      {/* C title */}
      <Html x={1194} y={20} size={12.4} style={{ fontWeight: "bold" }}>Delta area</Html>

      {/* D legend, PC2 is mostly cut away in the picture */}
      <Html x={892} y={562} size={10.2} style={{ color: "#222" }}>LncRNAs cluster</Html>
      {clusterLegend.map((c, i) => (
        <div key={c.name}>
          <div style={{ position: "absolute", left: 898, top: 583 + i * 16, width: 5, height: 5, borderRadius: 3, background: c.color }} />
          <Html x={913} y={581 + i * 16} size={9.5} style={{ color: "#333" }}>{c.name}</Html>
        </div>
      ))}
      <div style={{ position: "absolute", left: 580, top: 580, width: 5, height: 26, overflow: "hidden" }}>
        <div style={{ transform: "rotate(-90deg) translate(-22px, -6px)", transformOrigin: "0 0", fontFamily: SANS, fontSize: 11, color: "#444" }}>
          PC2
        </div>
      </div>

      {/* E legend */}
      <Html x={1305} y={457} size={8.5} style={{ color: "#222" }}>LncRNAs cluster</Html>
      {clusterLegend.map((c, i) => (
        <div key={c.name}>
          <svg style={{ position: "absolute", left: 1305, top: 471 + i * 15 }} width={14} height={10}>
            <path d="M0 5H14M7 2V8" stroke={c.color} strokeWidth={1.6} />
          </svg>
          <Html x={1323} y={471 + i * 15} size={9.5} style={{ color: "#222" }}>{c.name}</Html>
        </div>
      ))}
      <Html x={1034} y={691} size={13.5} style={{ color: "#222" }}>Number at risk</Html>
      <div
        style={{
          position: "absolute",
          left: 995,
          top: 681,
          height: 86,
          writingMode: "vertical-rl",
          transform: "rotate(180deg)",
          fontFamily: SANS,
          fontSize: 12,
          color: "#222",
          whiteSpace: "nowrap",
        }}
      >
        LncRNAs cluster
      </div>
    </div>
  )
}
